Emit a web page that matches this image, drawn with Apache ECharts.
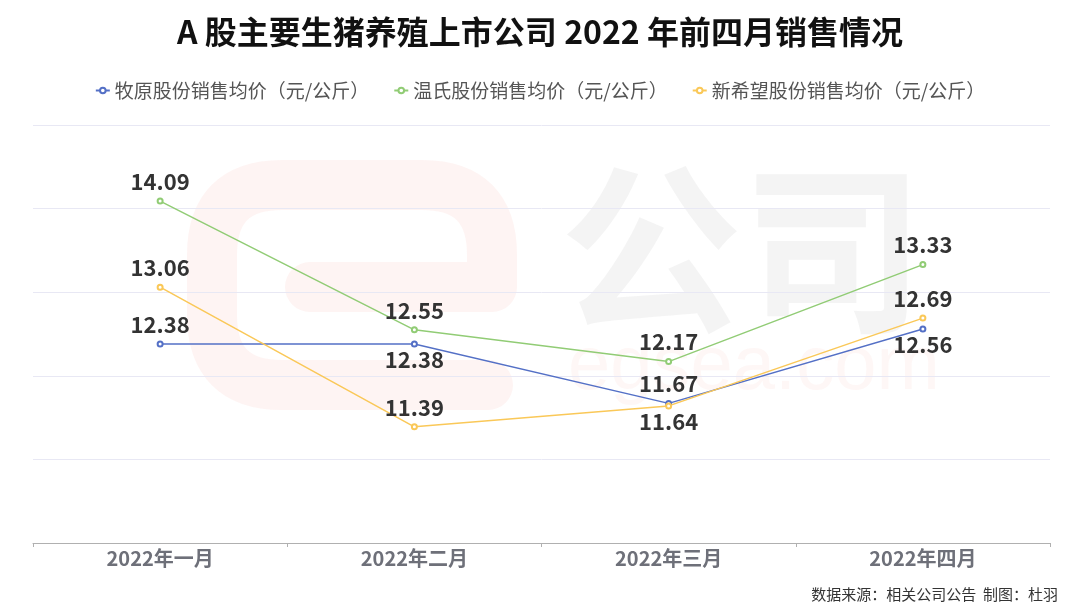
<!DOCTYPE html>
<html>
<head>
<meta charset="utf-8">
<script src="https://cdn.jsdelivr.net/npm/echarts@6/dist/echarts.min.js"></script>
<style>
html,body{margin:0;padding:0;background:#fff;}
#chart{width:1080px;height:608px;}
</style>
</head>
<body>
<div id="chart"></div>
<script>
const categories = ['2022年一月', '2022年二月', '2022年三月', '2022年四月'];
const seriesNames = ['牧原股份销售均价（元/公斤）', '温氏股份销售均价（元/公斤）', '新希望股份销售均价（元/公斤）'];
const muyuan = [12.38, 12.38, 11.67, 12.56];
const wens = [14.09, 12.55, 12.17, 13.33];
const xinxiwang = [13.06, 11.39, 11.64, 12.69];
const muyuanLabelPos = ['top', 'bottom', 'top', 'bottom'];
const wensLabelPos = ['top', 'top', 'top', 'top'];
const xinxiwangLabelPos = ['top', 'top', 'bottom', 'top'];
const titleText = 'A 股主要生猪养殖上市公司 2022 年前四月销售情况';
const sourceText = '数据来源：相关公司公告  制图：杜羽';

const font = '"Noto Sans CJK SC", "Noto Sans", sans-serif';
const colors = ['#5470c6', '#91cc75', '#fac858'];

function mk(values, pos) {
  return values.map((v, i) => ({
    value: v,
    label: { position: pos[i], distance: pos[i] === 'top' ? 5 : 1 }
  }));
}

// watermark "e" logo shape (decoration only)
let logoOk = false;
try {
  const ELogo = echarts.graphic.extendShape({
    shape: {},
    buildPath: function (ctx) {
      ctx.moveTo(488, 385);
      ctx.lineTo(282, 385);
      ctx.quadraticCurveTo(212, 385, 212, 315);
      ctx.lineTo(212, 255);
      ctx.quadraticCurveTo(212, 185, 282, 185);
      ctx.lineTo(422, 185);
      ctx.quadraticCurveTo(492, 185, 492, 255);
      ctx.lineTo(492, 287);
      ctx.lineTo(310, 287);
    }
  });
  echarts.graphic.registerShape('eLogo', ELogo);
  logoOk = true;
} catch (e) { logoOk = false; }

const chart = echarts.init(document.getElementById('chart'));
const labelStyle = { show: true, fontSize: 22, fontWeight: 'bold', color: '#333', fontFamily: font };
function line(name, data, color) {
  return {
    name, type: 'line', data, symbol: 'emptyCircle', symbolSize: 5,
    lineStyle: { width: 1.5, color }, itemStyle: { color },
    label: labelStyle, z: 5
  };
}
const graphics = [
  { type: 'text', left: 560, top: 158, z: -1, silent: true,
    style: { text: '公司', fontSize: 182, fontWeight: 'bold', fill: 'rgba(120,120,120,0.08)', fontFamily: font } },
  { type: 'text', left: 568, top: 330, z: -1, silent: true,
    style: { text: 'egsea.com', fontSize: 76, fill: 'rgba(240,120,100,0.06)', fontFamily: 'Arial, sans-serif' } },
  { type: 'text', right: 22, bottom: 6, z: 10,
    style: { text: sourceText, fontSize: 15, fill: '#333', fontFamily: font } }
];
if (logoOk) {
  graphics.unshift({ type: 'eLogo', z: -1, silent: true, shape: {},
    style: { fill: null, stroke: 'rgba(235,110,90,0.075)', lineWidth: 50, lineCap: 'round', lineJoin: 'round' } });
}
const option = {
  animation: false,
  color: colors,
  title: {
    text: titleText, left: 'center', top: 11,
    textStyle: { fontSize: 32, fontWeight: 'bold', color: '#111', fontFamily: font }
  },
  legend: {
    top: 76, left: 'center', itemWidth: 14, itemHeight: 7, itemGap: 24,
    textStyle: { fontSize: 19, color: '#555', fontFamily: font },
    data: seriesNames
  },
  grid: { left: 33, right: 30, top: 125, bottom: 65 },
  xAxis: {
    type: 'category', data: categories, boundaryGap: true,
    axisLine: { lineStyle: { color: '#b0b0b0' } },
    axisTick: { show: true, lineStyle: { color: '#b0b0b0' }, length: 4 },
    axisLabel: { fontSize: 20, fontWeight: 'bold', color: '#6e7079', fontFamily: font, margin: 5 }
  },
  yAxis: {
    type: 'value', min: 10, max: 15, interval: 1,
    axisLabel: { show: false }, axisLine: { show: false }, axisTick: { show: false },
    splitLine: { lineStyle: { color: '#e8e8f4' } }
  },
  graphic: graphics,
  series: [
    line(seriesNames[0], mk(muyuan, muyuanLabelPos), colors[0]),
    line(seriesNames[1], mk(wens, wensLabelPos), colors[1]),
    line(seriesNames[2], mk(xinxiwang, xinxiwangLabelPos), colors[2])
  ]
};
try {
  chart.setOption(option);
} catch (err) {
  option.graphic = graphics.filter(g => g.type !== 'eLogo');
  chart.clear();
  chart.setOption(option);
}
</script>
</body>
</html>
